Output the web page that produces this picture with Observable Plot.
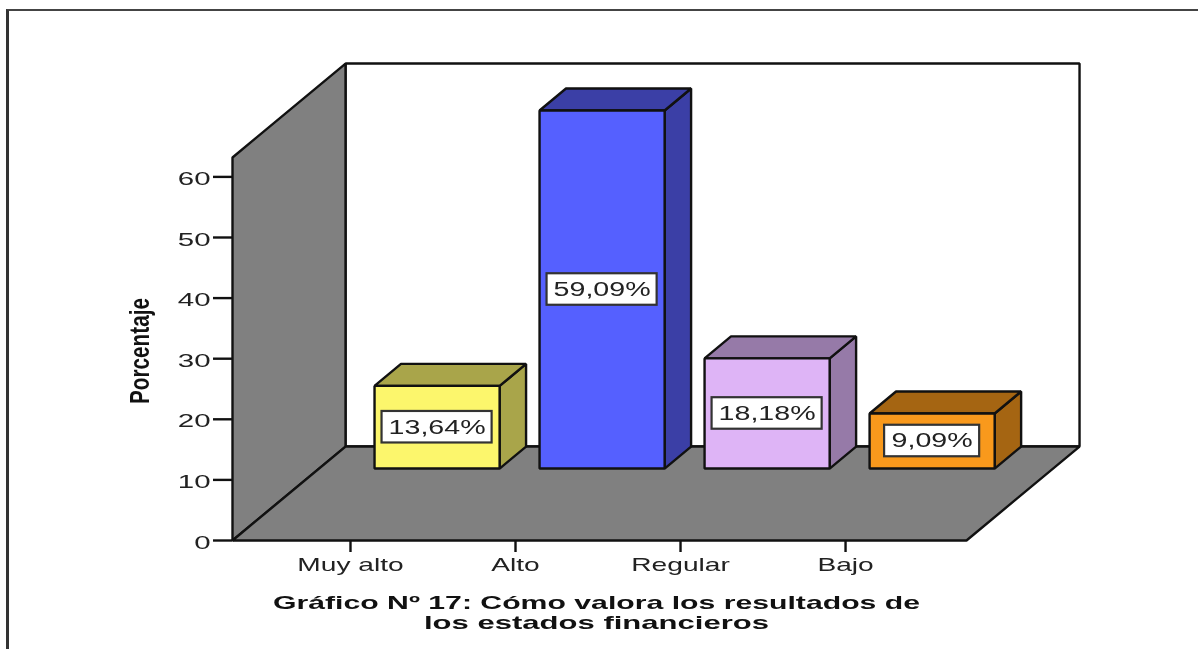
<!DOCTYPE html>
<html><head><meta charset="utf-8">
<script src="https://cdn.jsdelivr.net/npm/d3@7"></script>
<script src="https://cdn.jsdelivr.net/npm/@observablehq/plot@0.6"></script>
<style>
html,body{margin:0;padding:0;background:#fff;overflow:hidden}
#wrap{position:relative;width:1198px;height:649px;overflow:hidden}
#wrap svg{position:absolute;left:0;top:0;filter:blur(0.6px);background:#fff}
#edge{position:absolute;left:6px;top:9px;width:1192px;height:640px;border-left:3px solid #333;border-top:2px solid #444;box-sizing:border-box;filter:blur(0.4px)}
</style></head><body>
<div id="wrap"><div id="edge"></div></div>
<script>
const categories = ["Muy alto", "Alto", "Regular", "Bajo"];
const percentages = [13.64, 59.09, 18.18, 9.09];
const barLabels = ["13,64%", "59,09%", "18,18%", "9,09%"];
const frontColors = ["#fcf66c", "#5560ff", "#deb4f6", "#f9991c"];
const shadeColors = ["#a9a54a", "#3b3fa6", "#967aa8", "#a56512"];
const labelUnits = [0.667, 0.667, 0.667, 0.576];
const yTicks = [0, 10, 20, 30, 40, 50, 60];
const titleLines = ["Gráfico Nº 17: Cómo valora los resultados de", "los estados financieros"];
const yTitle = "Porcentaje";

// Oblique projection of the 3D box, in data units
const xMin = -0.715, xMax = 3.733, yMax = 63.2;
const shearX = 0.685, shearY = 15.5;
const halfBar = 0.379, depthFront = 0.766, depthBack = 1;
const tickUnits = 0.115;
const pt = (x, y, d = 0) => ({x: x + d * shearX, y: y + d * shearY});

const polys = [];
const add = (pts, color) => {
  const id = polys.length;
  pts.forEach(p => polys.push({...p, id, color}));
};
add([pt(xMin,0,1), pt(xMax,0,1), pt(xMax,yMax,1), pt(xMin,yMax,1)], "#ffffff");
add([pt(xMin,0,0), pt(xMin,0,1), pt(xMin,yMax,1), pt(xMin,yMax,0)], "#808080");
add([pt(xMin,0,0), pt(xMax,0,0), pt(xMax,0,1), pt(xMin,0,1)], "#808080");
percentages.forEach((v, i) => {
  const a = i - halfBar, b = i + halfBar;
  add([pt(b,0,depthFront), pt(b,0,depthBack), pt(b,v,depthBack), pt(b,v,depthFront)], shadeColors[i]);
  add([pt(a,v,depthFront), pt(b,v,depthFront), pt(b,v,depthBack), pt(a,v,depthBack)], shadeColors[i]);
  add([pt(a,0,depthFront), pt(b,0,depthFront), pt(b,v,depthFront), pt(a,v,depthFront)], frontColors[i]);
});

const labels = percentages.map((v, i) => {
  const c = pt(i, v / 2, depthFront);
  return {cx: c.x, cy: c.y, w: labelUnits[i], text: barLabels[i]};
});

const svg = Plot.plot({
  width: 1198, height: 649,
  marginLeft: 232, marginRight: 232, marginTop: 157, marginBottom: 109,
  style: {fontFamily: "'Liberation Sans', Arial, sans-serif", background: "#fff", color: "#222"},
  x: {type: "linear", domain: [xMin, xMax], label: null},
  y: {type: "linear", domain: [0, yMax], label: null, axis: null},
  color: {type: "identity"},
  marks: [
    Plot.line(polys, {x: "x", y: "y", z: "id", fill: "color", stroke: "#111", strokeWidth: 2.4, curve: "linear-closed", strokeLinejoin: "miter"}),
    Plot.rect(labels, {x1: d => d.cx - d.w / 2, x2: d => d.cx + d.w / 2, y1: d => d.cy - 2.6, y2: d => d.cy + 2.6, fill: "#fff", stroke: "#333", strokeWidth: 2.2}),
    Plot.text(labels, {x: "cx", y: "cy", text: "text", fontSize: 20, fill: "#222"}),
    Plot.ruleY(yTicks, {x1: xMin - tickUnits, x2: xMin, y: d => d, stroke: "#111", strokeWidth: 2.4}),
    Plot.text(yTicks, {x: xMin - tickUnits, y: d => d, text: d => String(d), textAnchor: "end", dx: -3, dy: 2, fontSize: 19, fill: "#222"}),
    Plot.axisX({ticks: [0, 1, 2, 3], tickFormat: i => categories[i], tickSize: 12, tickPadding: 5, fontSize: 19, label: null, stroke: "#111", strokeWidth: 2.4, fill: "#222"}),
    Plot.text([yTitle], {frameAnchor: "left", textAnchor: "middle", rotate: -90, dx: -92, dy: 2, fontSize: 27, fontWeight: "bold", fill: "#111"}),
    Plot.text([titleLines[0]], {frameAnchor: "bottom", dx: -3, dy: 68, fontSize: 19, fontWeight: "bold", fill: "#111"}),
    Plot.text([titleLines[1]], {frameAnchor: "bottom", dx: -3, dy: 88, fontSize: 19, fontWeight: "bold", fill: "#111"})
  ]
});
document.getElementById("wrap").prepend(svg);

// The reference's type is horizontally stretched
const widths = new Map([[titleLines[0], 647], [titleLines[1], 345], [yTitle, 106]]);
svg.querySelectorAll("text").forEach(t => {
  const s = t.textContent;
  const k = /^\d+$/.test(s) ? 1.55 : categories.includes(s) ? 1.48 : 1.43;
  const w = widths.get(s) || t.getComputedTextLength() * k;
  t.setAttribute("textLength", w);
  t.setAttribute("lengthAdjust", "spacingAndGlyphs");
});
</script>
</body></html>
